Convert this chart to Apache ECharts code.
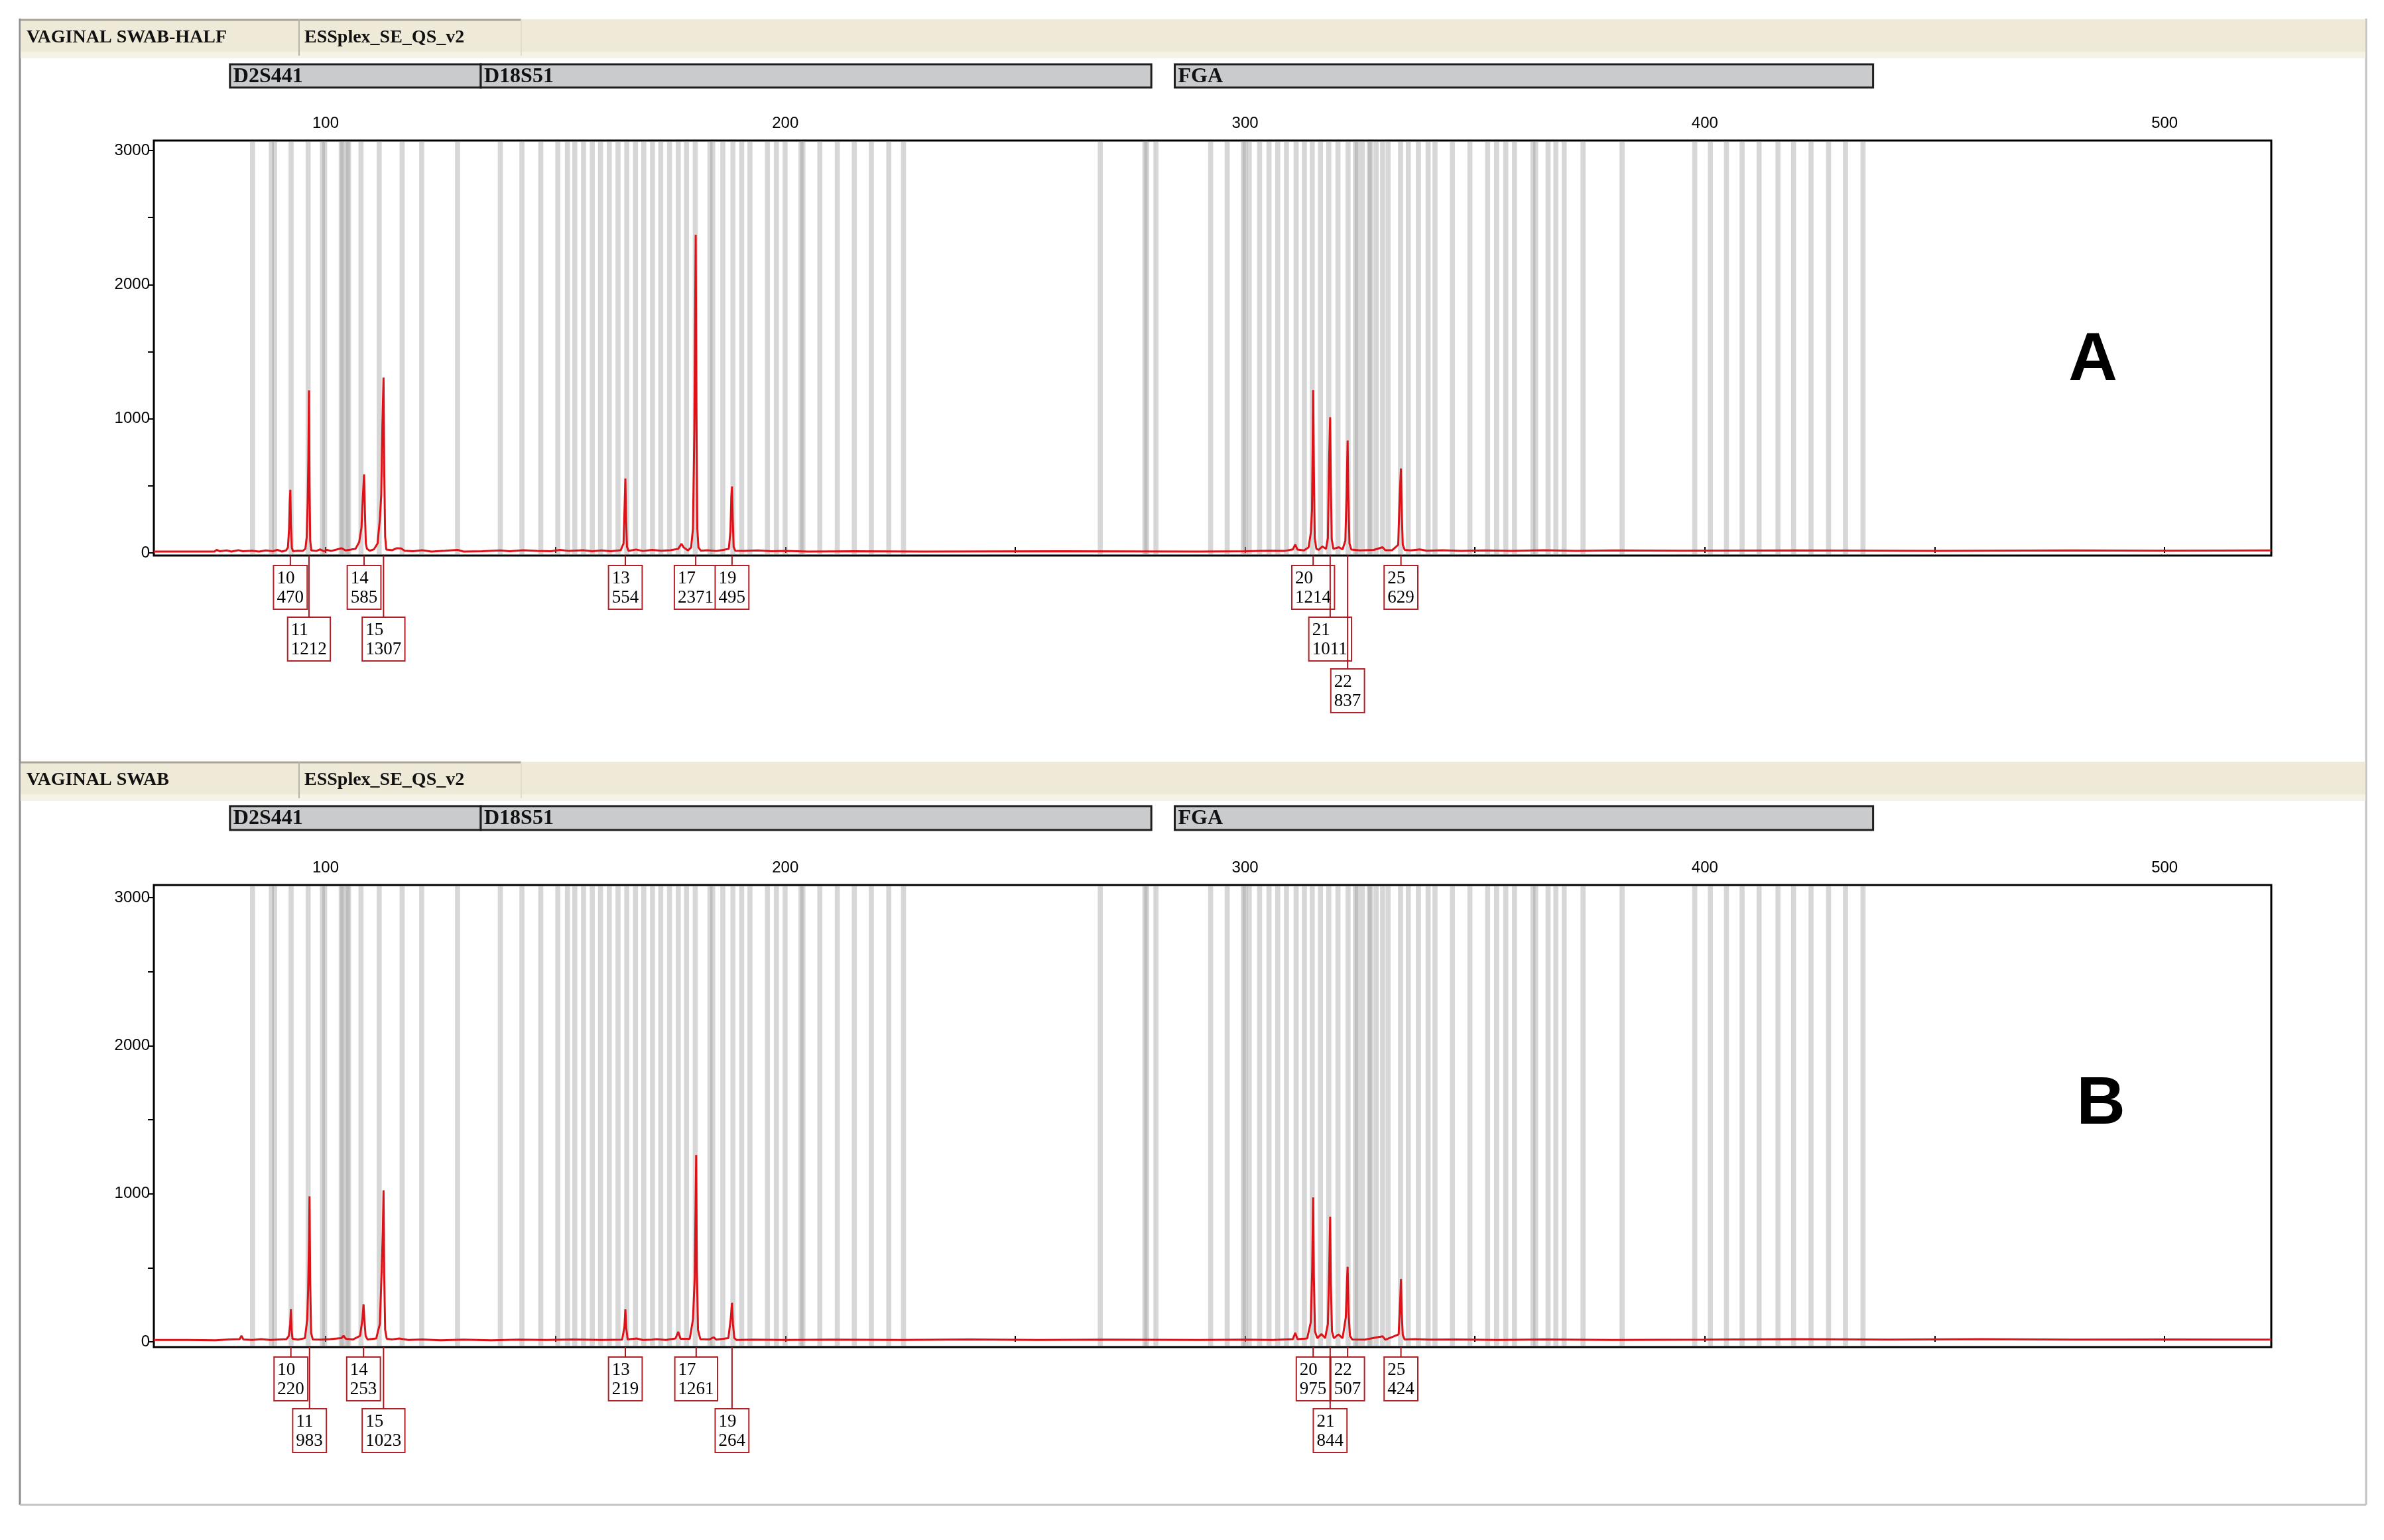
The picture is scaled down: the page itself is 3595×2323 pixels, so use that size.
<!DOCTYPE html>
<html><head><meta charset="utf-8">
<script src="https://cdn.jsdelivr.net/npm/echarts@6/dist/echarts.min.js"></script>
<style>html,body{margin:0;padding:0;background:#fff}#c{width:3595px;height:2323px}</style>
</head><body><div id="c"></div>
<script>
// ---------------- DATA ----------------
const sampleNames = ['VAGINAL SWAB-HALF', 'VAGINAL SWAB'];
const panelLetters = ['A', 'B'];
const kitName = 'ESSplex_SE_QS_v2';
const markerNames = ['D2S441', 'D18S51', 'FGA'];
const markerStartBp = [79.2, 133.75, 284.7];
const markerEndBp = [133.75, 279.6, 436.6];
const xTickValues = [100, 150, 200, 250, 300, 350, 400, 450, 500];
const xLabelValues = [100, 200, 300, 400, 500];
const yTickValues = [0, 500, 1000, 1500, 2000, 2500, 3000];
const yLabelValues = [0, 1000, 2000, 3000];
// allele bins (bp centres)
const binCenters = [84.1, 88.2, 88.9, 92.5, 96.2, 99.3, 99.8, 103.4, 103.7, 104.7, 105.0, 107.7, 111.65, 116.65, 120.9, 128.7,
  138.0, 142.7, 146.8, 150.5, 152.6, 154.2, 156.1, 158.0, 159.8, 161.7, 163.6, 165.5, 167.4, 169.2, 171.1, 172.9, 174.8,
  176.7, 178.5, 180.4, 183.6, 184.2, 186.4, 188.6, 190.5, 192.3, 196.1, 198.05, 199.95, 203.4, 203.8, 207.5, 211.3, 215.0,
  218.7, 222.5, 225.7, 268.5, 278.2, 278.6, 280.6, 292.5,
  296.1, 299.6, 300.0, 300.9, 303.15, 305.2, 307.1, 309.0, 311.1, 312.9, 314.6, 316.4, 318.2, 320.2, 322.4, 324.0, 324.4,
  325.5, 327.0, 327.3, 328.5, 329.9, 331.1, 333.8, 335.5, 337.7, 339.8, 341.3, 345.1, 348.9, 352.75, 354.7, 356.7, 358.6,
  362.6, 363.2, 365.9, 367.6, 369.4, 373.5, 382.0, 397.8, 401.2, 404.7, 408.1, 411.8, 415.9, 419.3, 423.1, 426.9, 430.6, 434.4];
const alleleNames = ['10', '11', '14', '15', '13', '17', '19', '20', '21', '22', '25'];
const peakSizeA = [92.33, 96.38, 108.37, 112.6, 165.2, 180.5, 188.4, 314.8, 318.5, 322.3, 333.9];
const peakHeightA = [470, 1212, 585, 1307, 554, 2371, 495, 1214, 1011, 837, 629];
const labelTierA = [0, 1, 0, 1, 0, 0, 0, 0, 1, 2, 0];
const peakSizeB = [92.45, 96.5, 108.25, 112.6, 165.2, 180.6, 188.4, 314.8, 318.5, 322.3, 333.9];
const peakHeightB = [220, 983, 253, 1023, 219, 1261, 264, 975, 844, 507, 424];
const labelTierB = [0, 1, 0, 1, 0, 0, 1, 0, 1, 0, 0];
// traces [bp, rfu]
const traceA = [[62.6,10],[70,10],[75.8,10],[76.3,22],[77,12],[78.5,18],[79.5,10],[81,20],[82,12],[84,16],[85.5,10],[87,18],[88.5,12],[89.5,22],[90.5,10],[91.4,18],[91.8,40],[92.05,180],[92.2,380],[92.33,470],[92.45,220],[92.65,40],[92.9,12],[94,16],[95,14],[95.6,30],[95.9,120],[96.1,375],[96.25,700],[96.38,1212],[96.5,520],[96.65,90],[96.9,18],[98,14],[98.8,26],[99.6,12],[100.3,22],[101.2,14],[102.5,26],[103.5,34],[104.3,18],[105.5,24],[106.5,30],[107.3,80],[107.8,187],[108.1,420],[108.37,585],[108.55,300],[108.75,70],[109,30],[109.6,16],[110.5,26],[111.3,70],[111.8,250],[112.1,430],[112.35,950],[112.6,1307],[112.75,620],[112.95,120],[113.2,25],[114.5,20],[115.5,35],[116.4,33],[117.2,16],[119,12],[121,20],[123,10],[126,16],[128.7,22],[130,10],[134,12],[138,18],[140,12],[143,20],[146,15],[149,12],[151,22],[153,14],[156,20],[158,12],[160,18],[162,12],[164.2,20],[164.8,70],[165.0,300],[165.2,554],[165.35,260],[165.55,45],[165.9,15],[167.5,25],[169,14],[171,22],[173,16],[175,20],[176.7,30],[177.4,68],[177.9,40],[178.8,18],[179.5,40],[179.9,180],[180.2,900],[180.5,2371],[180.65,1100],[180.85,180],[181.1,40],[181.6,16],[183,20],[185,14],[186.5,22],[187.7,30],[188.05,160],[188.25,420],[188.4,495],[188.55,260],[188.75,45],[189.1,16],[191,14],[194,18],[197,12],[200,14],[205,10],[215,12],[230,10],[260,12],[290,10],[300,12],[305,16],[308.5,14],[310.4,26],[310.9,62],[311.4,24],[312.8,18],[313.8,40],[314.3,150],[314.55,317],[314.7,800],[314.8,1214],[314.95,640],[315.15,110],[315.5,30],[316,22],[316.8,48],[317.6,30],[318.0,110],[318.25,660],[318.5,1011],[318.65,520],[318.85,100],[319.2,30],[320.4,42],[321.2,26],[321.8,90],[322.05,415],[322.3,837],[322.45,420],[322.7,70],[323.1,25],[325,18],[328,22],[329.9,42],[330.5,20],[332,20],[333.3,60],[333.6,397],[333.9,629],[334.05,320],[334.3,60],[334.7,22],[336,18],[338,26],[339.5,16],[343,20],[347,14],[352,18],[358,14],[365,20],[372,14],[380,18],[395,16],[420,18],[450,14],[480,18],[500,16],[523.2,18]];
const traceB = [[62.6,12],[70,12],[76,10],[79,16],[81.3,18],[81.7,40],[82.1,16],[84,12],[86,18],[88,12],[90,16],[91.5,18],[92.0,40],[92.3,120],[92.45,220],[92.6,80],[92.8,20],[94,14],[95.5,24],[96.0,150],[96.2,350],[96.4,700],[96.5,983],[96.65,400],[96.85,60],[97.2,16],[99,14],[101,18],[103.4,24],[103.9,40],[104.4,20],[106,16],[107.5,40],[108.0,150],[108.25,253],[108.45,140],[108.7,40],[109.1,16],[111,22],[111.8,120],[112.2,484],[112.45,750],[112.6,1023],[112.75,450],[112.95,80],[113.3,20],[114.5,16],[116,22],[118,12],[121,16],[125,10],[130,14],[136,10],[142,14],[148,12],[154,16],[160,12],[164.5,14],[165.0,100],[165.2,219],[165.4,90],[165.7,16],[167.6,22],[169,12],[171,14],[172,18],[174,12],[176.1,22],[176.7,67],[177.2,20],[179.2,20],[179.9,150],[180.3,440],[180.6,1261],[180.75,500],[181.0,80],[181.5,18],[183.5,16],[184.4,30],[185,14],[187.6,24],[188.1,150],[188.4,264],[188.6,120],[188.9,25],[189.4,12],[193,14],[200,12],[210,14],[225,12],[240,16],[255,12],[270,14],[290,12],[300,14],[306,12],[310.4,18],[310.9,60],[311.4,18],[313.5,22],[314.3,134],[314.6,500],[314.8,975],[314.95,450],[315.2,70],[315.7,24],[316.6,52],[317.4,24],[318.0,120],[318.3,500],[318.5,844],[318.65,400],[318.9,70],[319.3,24],[320.3,50],[321.2,24],[321.9,165],[322.15,400],[322.3,507],[322.5,200],[322.8,40],[323.3,16],[326,14],[329.9,37],[330.5,14],[333.4,50],[333.7,250],[333.9,424],[334.05,200],[334.3,45],[334.7,16],[337,18],[340,14],[346,16],[355,12],[365,16],[380,12],[400,14],[420,18],[440,14],[460,18],[480,14],[500,16],[523.2,14]];

// ---------------- LAYOUT ----------------
const X_MIN = 62.64, X_MAX = 523.2;
const GRID_LEFT = 232, GRID_RIGHT = 170;
const panels = [
  {gridTop: 212, gridBottom: 838, yMin: -20, yMax: 3074, headerY: 29, headerH: 59, markerTop: 97, markerH: 35, letterX: 3156, letterY: 545, rowTop: 853,
   sizes: peakSizeA, heights: peakHeightA, tiers: labelTierA, trace: traceA},
  {gridTop: 1335, gridBottom: 2032, yMin: -36, yMax: 3085, headerY: 1149, headerH: 59, markerTop: 1216, markerH: 36, letterX: 3168, letterY: 1667, rowTop: 2047,
   sizes: peakSizeB, heights: peakHeightB, tiers: labelTierB, trace: traceB}
];
const ROW_PITCH = 78, BOX_H = 66;
const serif = '"Liberation Serif","DejaVu Serif",serif';
const sans = '"Liberation Sans",Arial,sans-serif';

const chart = echarts.init(document.getElementById('c'), null, {renderer: 'canvas'});
const grids = [], xAxes = [], yAxes = [], series = [], graphics = [];

// outer frame
graphics.push({type: 'line', shape: {x1: 30, y1: 28, x2: 30, y2: 2270}, style: {stroke: '#8c8c8c', lineWidth: 3}, z: 0});
graphics.push({type: 'line', shape: {x1: 3568, y1: 28, x2: 3568, y2: 2270}, style: {stroke: '#c4c4c4', lineWidth: 3}, z: 0});
graphics.push({type: 'line', shape: {x1: 30, y1: 2270, x2: 3568, y2: 2270}, style: {stroke: '#c4c4c4', lineWidth: 3}, z: 0});

panels.forEach((p, i) => {
  grids.push({left: GRID_LEFT, right: GRID_RIGHT, top: p.gridTop, height: p.gridBottom - p.gridTop, show: true,
    backgroundColor: '#ffffff', borderColor: '#000', borderWidth: 3});
  xAxes.push({type: 'value', gridIndex: i, position: 'top', min: X_MIN, max: X_MAX,
    axisLine: {show: false}, splitLine: {show: false},
    axisTick: {show: true, customValues: xTickValues, length: 9, lineStyle: {color: '#000', width: 2}},
    axisLabel: {customValues: xLabelValues, fontSize: 24, fontFamily: sans, color: '#000', margin: 14,
      formatter: v => String(Math.round(v))}});
  yAxes.push({type: 'value', gridIndex: i, min: p.yMin, max: p.yMax,
    axisLine: {show: false}, splitLine: {show: false},
    axisTick: {show: true, customValues: yTickValues, length: 9, lineStyle: {color: '#000', width: 2}},
    axisLabel: {customValues: yLabelValues, fontSize: 24, fontFamily: sans, color: '#000', margin: 6,
      formatter: v => String(Math.round(v))}});

  // bins
  series.push({type: 'custom', xAxisIndex: i, yAxisIndex: i, silent: true, clip: true, z: 1,
    data: binCenters.map(c => [c - 0.55, c + 0.55]),
    renderItem: (params, api) => {
      const cs = params.coordSys;
      const a = api.coord([api.value(0), 0])[0], b = api.coord([api.value(1), 0])[0];
      return {type: 'rect', shape: {x: a, y: cs.y + 2, width: b - a, height: cs.height - 4},
        style: {fill: 'rgba(150,150,150,0.38)'}};
    }});
  // trace
  series.push({type: 'line', xAxisIndex: i, yAxisIndex: i, data: p.trace, symbol: 'none', z: 3,
    lineStyle: {color: '#dc1218', width: 3}, animation: false, silent: true});
  // marker bars
  series.push({type: 'custom', xAxisIndex: i, yAxisIndex: i, silent: true, clip: false, z: 4,
    data: markerNames.map((n, k) => [markerStartBp[k], markerEndBp[k]]),
    renderItem: (params, api) => {
      const a = api.coord([api.value(0), 0])[0], b = api.coord([api.value(1), 0])[0];
      return {type: 'group', children: [
        {type: 'rect', shape: {x: a, y: p.markerTop, width: b - a, height: p.markerH},
          style: {fill: '#c9cbcc', stroke: '#1e1e1e', lineWidth: 3}},
        {type: 'text', x: a + 5, y: p.markerTop + p.markerH / 2 + 1,
          style: {text: markerNames[params.dataIndex], font: 'bold 32px ' + serif, fill: '#111', verticalAlign: 'middle'}}
      ]};
    }});
  // allele labels
  series.push({type: 'custom', xAxisIndex: i, yAxisIndex: i, silent: true, clip: false, z: 5,
    data: p.sizes.map(s => [s, 0]),
    renderItem: (params, api) => {
      const k = params.dataIndex;
      const cs = params.coordSys;
      const x = api.coord([api.value(0), 0])[0];
      const a = alleleNames[k], h = String(p.heights[k]);
      const w = 10 + 13.6 * Math.max(a.length, h.length);
      const top = p.rowTop + p.tiers[k] * ROW_PITCH;
      const axisY = cs.y + cs.height;
      return {type: 'group', children: [
        {type: 'rect', shape: {x: x - w / 2, y: top, width: w, height: BOX_H}, z2: 1,
          style: {fill: '#fff', stroke: '#b42025', lineWidth: 2}},
        {type: 'text', x: x - w / 2 + 5, y: top + 5, z2: 2,
          style: {text: a + '\n' + h, font: '27px ' + serif, lineHeight: 29, fill: '#000', verticalAlign: 'top', align: 'left'}},
        {type: 'line', shape: {x1: x, y1: axisY, x2: x, y2: top}, z2: 10,
          style: {stroke: '#a3161c', lineWidth: 2}}
      ]};
    }});

  // header band
  graphics.push({type: 'rect', shape: {x: 31, y: p.headerY, width: 3536, height: p.headerH}, style: {fill: '#efe9d8'}, z: 1});
  graphics.push({type: 'rect', shape: {x: 31, y: p.headerY + p.headerH - 10, width: 3536, height: 10}, style: {fill: '#f6f2e6'}, z: 1});
  graphics.push({type: 'line', shape: {x1: 31, y1: p.headerY + 1, x2: 786, y2: p.headerY + 1}, style: {stroke: '#a8a496', lineWidth: 3}, z: 2});
  graphics.push({type: 'line', shape: {x1: 451, y1: p.headerY, x2: 451, y2: p.headerY + p.headerH - 4}, style: {stroke: '#b7b3a6', lineWidth: 2}, z: 2});
  graphics.push({type: 'line', shape: {x1: 786, y1: p.headerY, x2: 786, y2: p.headerY + p.headerH - 4}, style: {stroke: '#e2dccb', lineWidth: 2}, z: 2});
  graphics.push({type: 'text', x: 40, y: p.headerY + p.headerH / 2 - 2,
    style: {text: sampleNames[i], font: 'bold 28px ' + serif, fill: '#111', verticalAlign: 'middle'}, z: 3});
  graphics.push({type: 'text', x: 459, y: p.headerY + p.headerH / 2 - 2,
    style: {text: kitName, font: 'bold 28px ' + serif, fill: '#111', verticalAlign: 'middle'}, z: 3});
  // panel letter
  graphics.push({type: 'text', x: p.letterX, y: p.letterY,
    style: {text: panelLetters[i], font: 'bold 102px ' + sans, fill: '#000', align: 'center', verticalAlign: 'middle'}, z: 10});
});

chart.setOption({
  animation: false,
  backgroundColor: '#ffffff',
  grid: grids, xAxis: xAxes, yAxis: yAxes, series: series, graphic: graphics
});
</script>
</body></html>
